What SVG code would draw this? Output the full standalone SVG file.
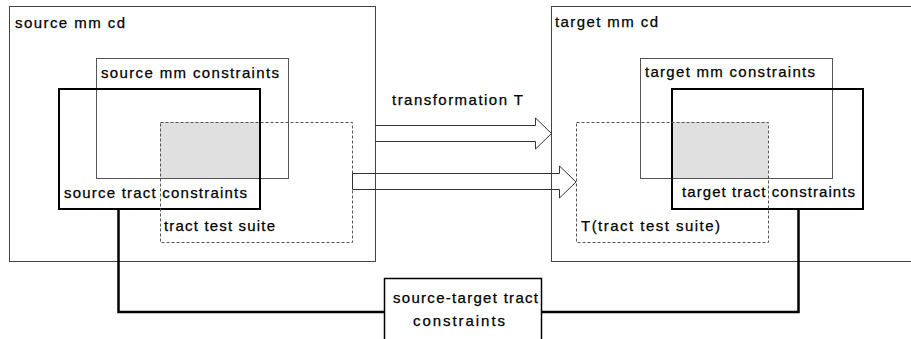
<svg xmlns="http://www.w3.org/2000/svg" width="911" height="339" viewBox="0 0 911 339">
<style>
text{font-family:"Liberation Sans",Arial,sans-serif;font-size:15px;fill:#000;stroke:#000;stroke-width:0.25}
.outer{fill:none;stroke:#444;stroke-width:1}
.mm{fill:none;stroke:#555;stroke-width:1}
.tract{fill:none;stroke:#000;stroke-width:2}
.suite{fill:none;stroke:#555;stroke-width:1;stroke-dasharray:3 2}
.overlap{fill:#e0e0e0;stroke:none}
.arrow{fill:none;stroke:#333;stroke-width:1}
.link{fill:none;stroke:#000;stroke-width:2.5}
.box{fill:#fff;stroke:#000;stroke-width:1.5}
</style>
<rect width="911" height="339" fill="#fff"/>
<g id="source-mm-cd">
<rect class="outer" x="9.5" y="6.5" width="366" height="255"/>
<text x="15" y="28" textLength="110" lengthAdjust="spacing">source mm cd</text>
</g>
<g id="target-mm-cd">
<rect class="outer" x="551.5" y="6.5" width="362" height="255"/>
<text x="555" y="27" textLength="103" lengthAdjust="spacing">target mm cd</text>
</g>
<g id="source-overlap"><rect class="overlap" x="160" y="122" width="100" height="56"/></g>
<g id="target-overlap"><rect class="overlap" x="672" y="122" width="96" height="56"/></g>
<g id="source-mm-constraints">
<rect class="mm" x="96.5" y="58.5" width="192" height="120"/>
<text x="101" y="78" textLength="178" lengthAdjust="spacing">source mm constraints</text>
</g>
<g id="target-mm-constraints">
<rect class="mm" x="640.5" y="58.5" width="192" height="120"/>
<text x="645" y="77" textLength="170" lengthAdjust="spacing">target mm constraints</text>
</g>
<g id="source-tract-constraints">
<rect class="tract" x="59" y="89" width="201" height="120"/>
<text x="64" y="198" textLength="183" lengthAdjust="spacing">source tract constraints</text>
</g>
<g id="target-tract-constraints">
<rect class="tract" x="672" y="89" width="191" height="120"/>
<text x="682" y="197" textLength="173" lengthAdjust="spacing">target tract constraints</text>
</g>
<g id="tract-test-suite">
<rect class="suite" x="160.5" y="122.5" width="192" height="120"/>
<text x="164" y="231" textLength="111" lengthAdjust="spacing">tract test suite</text>
</g>
<g id="t-tract-test-suite">
<rect class="suite" x="576.5" y="122.5" width="192" height="120"/>
<text x="581" y="231" textLength="139" lengthAdjust="spacing">T(tract test suite)</text>
</g>
<g id="source-target-tract-constraints">
<rect class="box" x="384.5" y="278.5" width="157" height="70"/>
<text x="393" y="303" textLength="145" lengthAdjust="spacing">source-target tract</text>
<text x="413" y="326" textLength="92" lengthAdjust="spacing">constraints</text>
</g>
<g id="connectors">
<path class="arrow" d="M375,125.5 H535.5 V118 L551.5,133.5 L535.5,149 V141.5 H375"/>
<text x="392" y="105" textLength="131" lengthAdjust="spacing">transformation T</text>
<path class="arrow" d="M352.5,173.5 H559.5 V166 L576,182 L559.5,198 V189.5 H352.5 Z"/>
<polyline class="link" points="118.5,209 118.5,312 384,312"/>
<polyline class="link" points="542,312 798.5,312 798.5,209"/>
</g>
</svg>
